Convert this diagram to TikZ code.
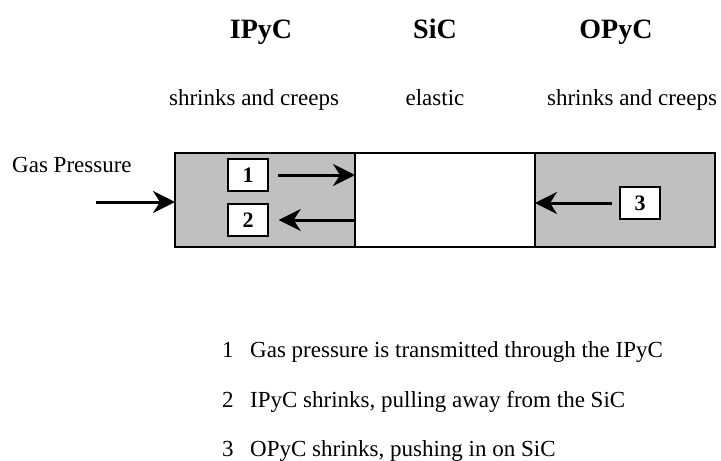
\documentclass[tikz,border=0pt]{standalone}
\usepackage{fontspec}
\setmainfont{Liberation Serif}
\usetikzlibrary{arrows.meta, positioning}
\definecolor{layergray}{RGB}{192,192,192}

\begin{document}
\begin{tikzpicture}[x=1pt, y=-1pt,
    layer/.style={draw, line width=1.4pt, minimum height=94pt, minimum width=180pt,
                  inner sep=0pt, outer sep=0pt},
    title/.style={anchor=base, font=\fontsize{28}{32}\selectfont\bfseries},
    subtitle/.style={anchor=base, font=\fontsize{23}{27}\selectfont},
    numbox/.style={draw, line width=1.4pt, fill=white, minimum width=40pt, minimum height=32pt,
                   inner sep=0pt, font=\fontsize{22}{24}\selectfont\bfseries},
    legend/.style={anchor=base west, inner sep=0pt, font=\fontsize{23}{27}\selectfont},
    push/.style={-{Stealth[length=22pt, width=22pt, inset=7pt]}, line width=3pt}]

\useasboundingbox (0,0) rectangle (721,461);

% Layers
\node[layer, fill=layergray, anchor=north west] (ipyc) at (175,153) {};
\node[layer, fill=white, right=0pt of ipyc] (sic) {};
\node[layer, fill=layergray, right=0pt of sic] (opyc) {};

% Headings
\node[title] (ipyc-name) at (261,38) {IPyC};
\node[title] (sic-name) at (435,38) {SiC};
\node[title] (opyc-name) at (616,38) {OPyC};
\node[subtitle] (ipyc-law) at (254,105) {shrinks and creeps};
\node[subtitle] (sic-law) at (435,105) {elastic};
\node[subtitle] (opyc-law) at (632,105) {shrinks and creeps};

% Gas pressure
\node[anchor=base west, inner sep=0pt, font=\fontsize{23}{27}\selectfont] (gas-name) at (12,172) {Gas Pressure};
\coordinate (gas) at (96,202);
\draw[push] (gas) -- (gas -| ipyc.west);

% Numbered steps
\node[numbox] (n1) at (248,175) {1};
\node[numbox] (n2) at (248,220) {2};
\node[numbox] (n3) at (640,203) {3};
\draw[push, shorten <=9pt] (n1.east) -- (n1.east -| ipyc.east);
\draw[push, shorten >=10pt] (n2.east -| ipyc.east) -- (n2.east);
\draw[push, shorten <=7pt] (n3.west) -- (n3.west -| opyc.west);

% Legend
\node[legend] (key1) at (222,357) {1};
\node[legend] (text1) at (250,357) {Gas pressure is transmitted through the IPyC};
\node[legend] (key2) at (222,407) {2};
\node[legend] (text2) at (250,407) {IPyC shrinks, pulling away from the SiC};
\node[legend] (key3) at (222,456) {3};
\node[legend] (text3) at (250,456) {OPyC shrinks, pushing in on SiC};

\end{tikzpicture}
\end{document}
